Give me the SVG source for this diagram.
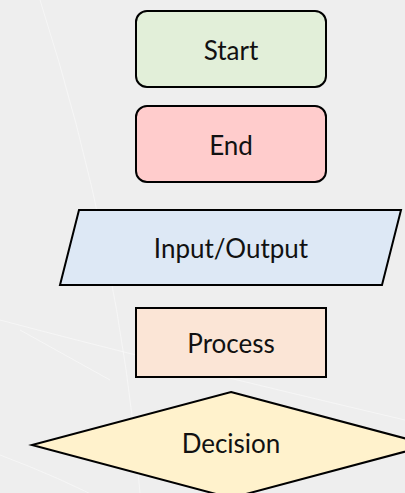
<svg xmlns="http://www.w3.org/2000/svg" width="405" height="493" viewBox="0 0 405 493">
  <defs>
    <style>
      .shape { stroke: #000; stroke-width: 2; stroke-linejoin: miter; }
      .label { font-family: Lato, "Open Sans", "Liberation Sans", sans-serif; font-size: 26px; fill: #111; text-anchor: middle; }
      .bgline { fill: none; stroke: #ffffff; stroke-width: 1; opacity: 0.45; }
    </style>
  </defs>
  <rect x="0" y="0" width="405" height="493" fill="#eeeeee"/>
  <g id="background">
    <path class="bgline" d="M0 455 Q120 500 200 560"/>
    <path class="bgline" d="M0 320 Q150 360 405 420"/>
    <path class="bgline" d="M40 0 Q120 250 140 493"/>
    <path class="bgline" d="M20 330 L110 380"/>
  </g>
  <g id="start">
    <rect class="shape" x="136" y="11" width="190" height="76" rx="11" ry="11" fill="#e2efd9"/>
    <text class="label" x="231" y="60">Start</text>
  </g>
  <g id="end">
    <rect class="shape" x="136" y="106" width="190" height="76" rx="11" ry="11" fill="#ffcccc"/>
    <text class="label" x="231" y="155">End</text>
  </g>
  <g id="io">
    <polygon class="shape" points="79,210 401,210 382,285 60,285" fill="#dde8f5"/>
    <text class="label" x="231" y="258">Input/Output</text>
  </g>
  <g id="process">
    <rect class="shape" x="136" y="308" width="190" height="69" fill="#fbe5d6"/>
    <text class="label" x="231" y="353">Process</text>
  </g>
  <g id="decision">
    <polygon class="shape" points="231,392 430,445 231,498 32,445" fill="#fff2cc"/>
    <text class="label" x="231" y="453">Decision</text>
  </g>
  <g id="connectors"></g>
</svg>
